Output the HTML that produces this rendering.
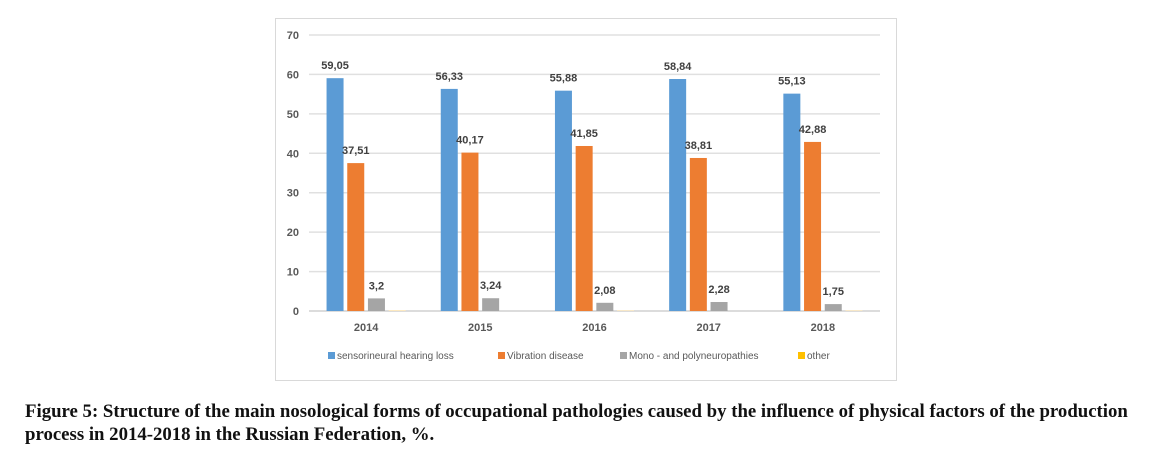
<!DOCTYPE html>
<html><head><meta charset="utf-8"><style>
body{margin:0;background:#fff;width:1165px;height:460px;overflow:hidden;position:relative;font-family:"Liberation Sans",sans-serif}
#cap{position:absolute;left:25px;top:400px;font-family:"Liberation Serif",serif;font-weight:bold;font-size:18.8px;line-height:23px;color:#111;white-space:nowrap}
</style></head><body>
<svg width="1165" height="460" style="position:absolute;left:0;top:0">
<rect x="275.5" y="18.5" width="621" height="362" fill="#fff" stroke="#d9d9d9"/>
<g id="grid"></g><g id="bars"></g><g id="labels"></g><g id="legend"></g>
</svg>
<div id="cap">Figure 5: Structure of the main nosological forms of occupational pathologies caused by the influence of physical factors of the production<br>process in 2014-2018 in the Russian Federation, %.</div>
<script>
const categories=["2014","2015","2016","2017","2018"];
const seriesNames=["sensorineural hearing loss","Vibration disease","Mono - and polyneuropathies","other"];
const hearing=[59.05,56.33,55.88,58.84,55.13];
const vibration=[37.51,40.17,41.85,38.81,42.88];
const mono=[3.2,3.24,2.08,2.28,1.75];
const other=[0.25,0,0.2,0,0.2];
const labelsHearing=["59,05","56,33","55,88","58,84","55,13"];
const labelsVibration=["37,51","40,17","41,85","38,81","42,88"];
const labelsMono=["3,2","3,24","2,08","2,28","1,75"];
const yTicks=[0,10,20,30,40,50,60,70];
const colors=["#5b9bd5","#ed7d31","#a5a5a5","#ffc000"];
const NS="http://www.w3.org/2000/svg";
const x0=309,x1=880,y0=311,yTop=35,yMax=70;
const band=(x1-x0)/categories.length;
const y=v=>y0-(v/yMax)*(y0-yTop);
function mk(t,a,p){const e=document.createElementNS(NS,t);for(const k in a)e.setAttribute(k,a[k]);document.getElementById(p).appendChild(e);return e;}
yTicks.forEach(t=>{
  const l=mk('line',{x1:x0,x2:x1,y1:y(t),y2:y(t),stroke:t==0?'#d0d0d0':'#e0e0e0','stroke-width':1.5},'grid');
  
  
  const tx=mk('text',{x:299,y:y(t)+4,'text-anchor':'end','font-size':11,'font-weight':'bold',fill:'#595959'},'grid');
  tx.textContent=t;
  
  
});
const series=[hearing,vibration,mono,other];
const labs=[labelsHearing,labelsVibration,labelsMono,null];
const bw=17,stride=20.7;
categories.forEach((c,i)=>{
  const gx=x0+band*i+band/2-2*stride+(stride-bw)/2;
  series.forEach((s,j)=>{
    const bx=gx+j*stride;
    const r=mk('rect',{x:bx,y:y(s[i]),width:bw,height:Math.max(0,y0-y(s[i])),fill:j==3?'#fde9c0':colors[j]},'bars');
    
    
    if(labs[j]){
      const t=mk('text',{x:bx+bw/2,y:y(s[i])-9,'text-anchor':'middle','font-size':11,'font-weight':'bold',fill:'#404040'},'labels');
      t.textContent=labs[j][i];
      
      
    }
  });
  const t=mk('text',{x:x0+band*i+band/2,y:331,'text-anchor':'middle','font-size':11,'font-weight':'bold',fill:'#595959'},'labels');
  t.textContent=c;
  
  
});
const lx=[328,498,620,798];
seriesNames.forEach((n,j)=>{
  const r=mk('rect',{x:lx[j],y:352,width:7,height:7,fill:colors[j]},'legend');
  
  
  const t=mk('text',{x:lx[j]+9,y:359,'font-size':10,fill:'#595959'},'legend');
  t.textContent=n;
  
  
});
</script>
</body></html>
